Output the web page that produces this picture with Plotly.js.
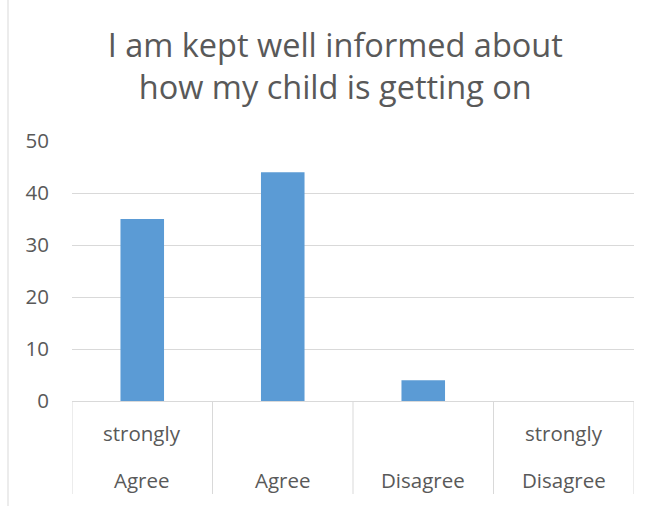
<!DOCTYPE html>
<html>
<head>
<meta charset="utf-8">
<script src="https://cdn.plot.ly/plotly-3.0.1.min.js"></script>
<style>html,body{margin:0;padding:0;background:#fff;}#chart{width:651px;height:506px;}</style>
</head>
<body>
<div id="chart"></div>
<script>
const categories = ['Strongly Agree', 'Agree', 'Disagree', 'Strongly Disagree'];
const values = [35, 44, 4, 0];
const labelTop = ['strongly', '', '', 'strongly'];
const labelBottom = ['Agree', 'Agree', 'Disagree', 'Disagree'];
const yTicks = [0, 10, 20, 30, 40, 50];
const titleText = 'I am kept well informed about<br>how my child is getting on';

const W = 651, H = 506;
const L = 72, R = 17, T = 141, B = 105;
const plotH = H - T - B, plotW = W - L - R;
const grey = '#d9d9d9';
const textCol = '#595959';
const fontFam = '"Open Sans", sans-serif';

const xIdx = categories.map((c, i) => i);

const shapes = [];
for (let i = 0; i <= categories.length; i++) {
  shapes.push({type: 'line', xref: 'x', yref: 'paper', x0: i - 0.5, x1: i - 0.5,
    y0: 0, y1: -93 / plotH, line: {color: grey, width: 1}});
}
shapes.push({type: 'line', xref: 'paper', yref: 'paper',
  x0: (8 - L) / plotW, x1: (8 - L) / plotW, y0: -B / plotH, y1: 1 + T / plotH,
  line: {color: grey, width: 1}});

const annotations = [];
categories.forEach((c, i) => {
  if (labelTop[i]) annotations.push({x: i, xref: 'x', yref: 'paper', y: (401 - 433) / plotH,
    text: labelTop[i], showarrow: false, yanchor: 'middle', font: {size: 20.5, color: textCol, family: fontFam}});
  annotations.push({x: i, xref: 'x', yref: 'paper', y: (401 - 480) / plotH,
    text: labelBottom[i], showarrow: false, yanchor: 'middle', font: {size: 20.5, color: textCol, family: fontFam}});
});

Plotly.newPlot('chart', [{
  type: 'bar', x: xIdx, y: values, width: 0.31,
  marker: {color: '#5b9bd5'}, hovertext: categories
}], {
  width: W, height: H,
  margin: {l: L, r: R, t: T, b: B},
  paper_bgcolor: '#fff', plot_bgcolor: '#fff',
  showlegend: false,
  title: {text: titleText, x: 0.515, xanchor: 'center', y: 1 - 57 / H, yanchor: 'middle', yref: 'container',
    font: {size: 32.5, color: textCol, family: fontFam}},
  xaxis: {range: [-0.5, categories.length - 0.5], showticklabels: false, showgrid: false, zeroline: false,
    showline: true, linecolor: grey, linewidth: 1, fixedrange: true},
  yaxis: {range: [0, 50], tickvals: yTicks, ticktext: yTicks.map(String), showgrid: true, gridcolor: grey, gridwidth: 1,
    zeroline: false, showline: false, ticklabelstandoff: 22,
    tickfont: {size: 20.5, color: textCol, family: fontFam}},
  shapes: shapes, annotations: annotations
}, {displayModeBar: false, staticPlot: true});
</script>
</body>
</html>
